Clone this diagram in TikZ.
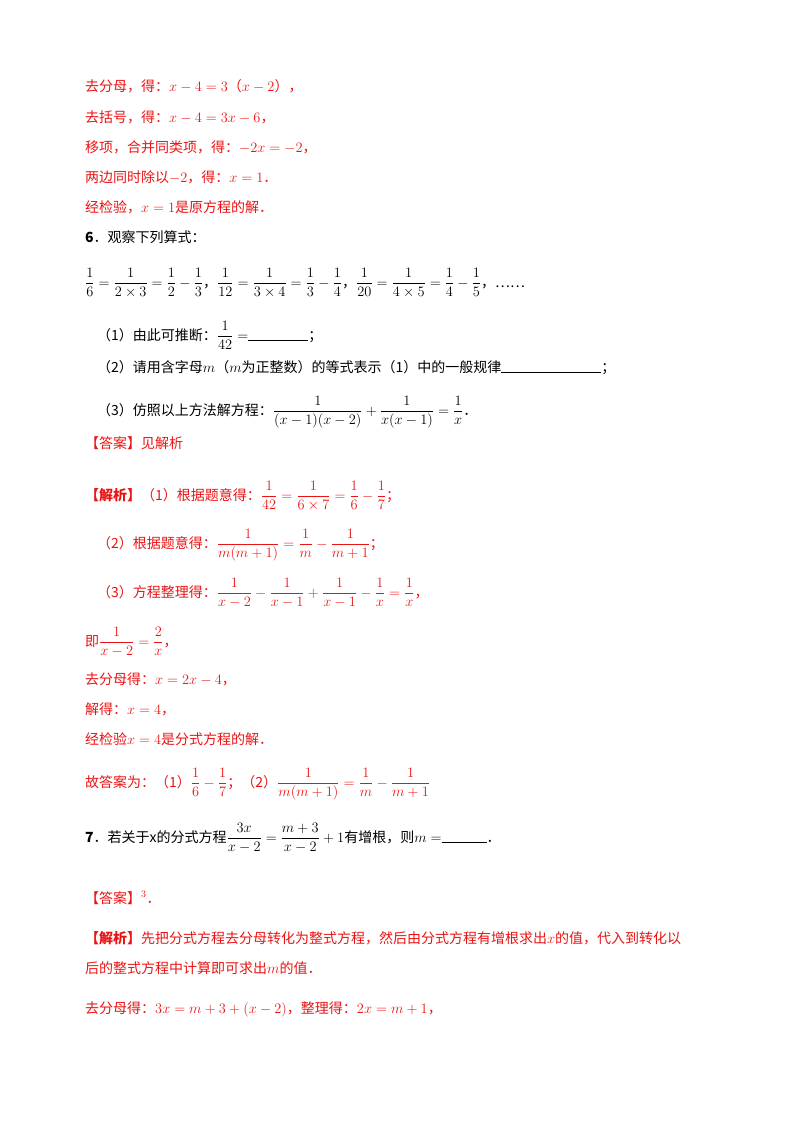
\documentclass[tikz,border=0pt]{standalone}
\usepackage{amsmath}
\usepackage{fontspec}
\setmainfont{Noto Sans CJK SC}
\definecolor{ansred}{RGB}{235,20,20}
\begin{document}
\begin{tikzpicture}[x=1pt,y=-1pt,
  t/.style={anchor=base west,inner sep=0pt,font=\fontsize{14}{16}\selectfont},
  r/.style={t,text=ansred}]
\useasboundingbox[fill=white] (0,0) rectangle (800,1132);
\node[r] (l1) at (85,92) {去分母，得：$x-4=3$（$x-2$），};
\node[r] (l2) at (85,122) {去括号，得：$x-4=3x-6$，};
\node[r] (l3) at (85,152) {移项，合并同类项，得：$-2x=-2$，};
\node[r] (l4) at (85,182) {两边同时除以$-2$，得：$x=1$．};
\node[r] (l5) at (85,212) {经检验，$x=1$是原方程的解．};
\node[t] (q6) at (85,242) {\textbf{6}．观察下列算式：};
\node[t] (q6a) at (85,287) {$\dfrac{1}{6}=\dfrac{1}{2\times3}=\dfrac{1}{2}-\dfrac{1}{3}$，$\dfrac{1}{12}=\dfrac{1}{3\times4}=\dfrac{1}{3}-\dfrac{1}{4}$，$\dfrac{1}{20}=\dfrac{1}{4\times5}=\dfrac{1}{4}-\dfrac{1}{5}$，……};
\node[t] (q61) at (97,340) {（1）由此可推断：$\dfrac{1}{42}=$\rule{60pt}{0.5pt}；};
\node[t] (q62) at (97,372) {（2）请用含字母$m$（$m$为正整数）的等式表示（1）中的一般规律\rule{100pt}{0.5pt}；};
\node[t] (q63) at (97,415) {（3）仿照以上方法解方程：$\dfrac{1}{(x-1)(x-2)}+\dfrac{1}{x(x-1)}=\dfrac{1}{x}$．};
\node[r] (ans) at (85,448) {【答案】见解析};
\node[r] (j1) at (85,500) {\textbf{【解析】}（1）根据题意得：$\dfrac{1}{42}=\dfrac{1}{6\times7}=\dfrac{1}{6}-\dfrac{1}{7}$；};
\node[r] (j2) at (97,548) {（2）根据题意得：$\dfrac{1}{m(m+1)}=\dfrac{1}{m}-\dfrac{1}{m+1}$；};
\node[r] (j3) at (97,597) {（3）方程整理得：$\dfrac{1}{x-2}-\dfrac{1}{x-1}+\dfrac{1}{x-1}-\dfrac{1}{x}=\dfrac{1}{x}$，};
\node[r] (j4) at (85,646) {即$\dfrac{1}{x-2}=\dfrac{2}{x}$，};
\node[r] (j5) at (85,684) {去分母得：$x=2x-4$，};
\node[r] (j6) at (85,714) {解得：$x=4$，};
\node[r] (j7) at (85,744) {经检验$x=4$是分式方程的解．};
\node[r] (j8) at (85,787) {故答案为：（1）$\dfrac{1}{6}-\dfrac{1}{7}$；（2）$\dfrac{1}{m(m+1)}=\dfrac{1}{m}-\dfrac{1}{m+1}$};
\node[t] (q7) at (85,842) {\textbf{7}．若关于x的分式方程$\dfrac{3x}{x-2}=\dfrac{m+3}{x-2}+1$有增根，则$m=$\rule{45pt}{0.5pt}．};
\node[r] (a7) at (85,903) {【答案】$^{3}$．};
\node[r] (p1) at (85,943) {\textbf{【解析】}先把分式方程去分母转化为整式方程，然后由分式方程有增根求出$x$的值，代入到转化以};
\node[r] (p2) at (85,973) {后的整式方程中计算即可求出$m$的值．};
\node[r] (p3) at (85,1013) {去分母得：$3x=m+3+\left(x-2\right)$，整理得：$2x=m+1$，};
\end{tikzpicture}
\end{document}
